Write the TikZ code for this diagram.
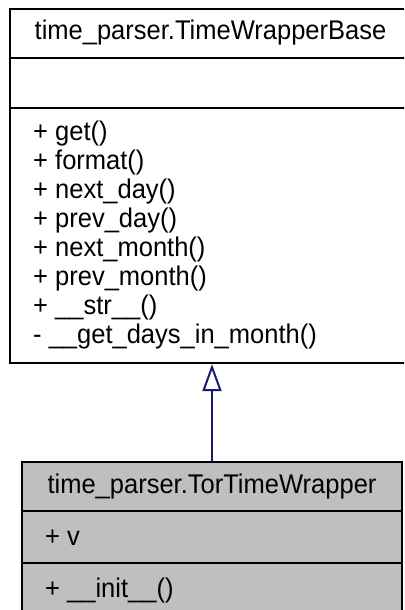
\documentclass[tikz,border=0pt]{standalone}
\usepackage{fontspec}
\setmainfont{Liberation Sans}[FakeStretch=0.945]
\usepackage{tikz}
\usetikzlibrary{arrows.meta,positioning}

\definecolor{edgeblue}{HTML}{191970}
\definecolor{boxgray}{HTML}{BFBFBF}

\begin{document}
\begin{tikzpicture}[
  x=1pt, y={(0,-1pt)},
  classbox/.style={draw=black, line width=2.2pt, rectangle, inner sep=0pt},
  sepline/.style={line width=2.2pt},
  member/.style={anchor=base west, inner sep=0pt, font=\fontsize{27}{29}\selectfont},
  title/.style={anchor=base, inner sep=0pt, font=\fontsize{27}{29}\selectfont},
  inherit/.style={line width=2pt, edgeblue, -{Triangle[open, length=27pt, width=19pt, fill=white]}},
]
\useasboundingbox (0,0) rectangle (404,610);
\clip (0,0) rectangle (404,610);

% --- base class (top, clipped on the right) ---
\node[classbox, fill=white, minimum width=401pt, minimum height=354pt] (base) at (210.5,186) {};
\draw[sepline] (base.west |- 0,58) -- (base.east |- 0,58);
\draw[sepline] (base.west |- 0,108) -- (base.east |- 0,108);
\node[title] (basename) at (210.5,40) {time\_parser.TimeWrapperBase};
\node[member] (m1) at (33,140) {+ get()};
\node[member] (m2) at (33,169) {+ format()};
\node[member] (m3) at (33,198) {+ next\_day()};
\node[member] (m4) at (33,227) {+ prev\_day()};
\node[member] (m5) at (33,256) {+ next\_month()};
\node[member] (m6) at (33,285) {+ prev\_month()};
\node[member] (m7) at (33,314) {+ \_\_str\_\_()};
\node[member] (m8) at (33,343) {- \_\_get\_days\_in\_month()};

% --- derived class (bottom, clipped at the foot) ---
\node[classbox, fill=boxgray, minimum width=380pt, minimum height=151pt] (tor) at (212,537.5) {};
\draw[sepline] (tor.west |- 0,511) -- (tor.east |- 0,511);
\draw[sepline] (tor.west |- 0,563) -- (tor.east |- 0,563);
\node[title] (torname) at (212,493) {time\_parser.TorTimeWrapper};
\node[member] (a1) at (45,545) {+ v};
\node[member] (f1) at (45,597) {+ \_\_init\_\_()};

% inheritance
\draw[inherit] (tor.north) -- (tor.north |- base.south);

\end{tikzpicture}
\end{document}
